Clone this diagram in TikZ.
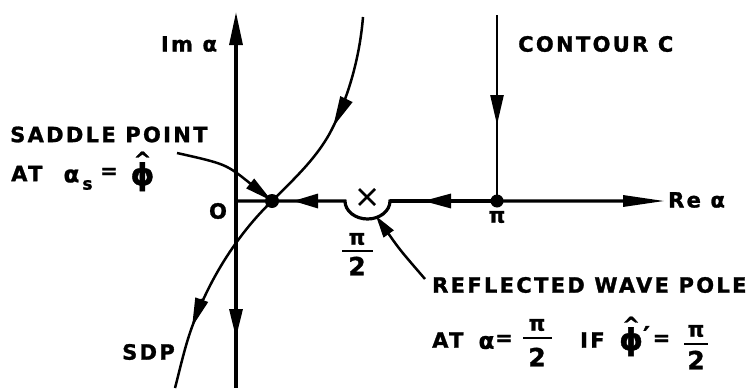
\documentclass[tikz,border=0pt]{standalone}
\usepackage{fontspec}
\setmainfont{DejaVu Sans}[BoldFeatures={FakeBold=1.3}]
\newfontfamily\labfont{DejaVu Sans}[LetterSpace=11,BoldFeatures={FakeBold=1.3}]
\usetikzlibrary{arrows.meta,decorations.markings,calc}
\newcommand\fsz[1]{\fontsize{#1}{#1}\selectfont}
\newcommand\phihat{\ooalign{\fsz{30}ϕ\cr\hidewidth\raisebox{18pt}{\fsz{21}\char"5E}\hidewidth\cr}}
\begin{document}
\begin{tikzpicture}[x=1pt,y=-1pt,
  ax/.style={line width=3.2pt},
  cv/.style={line width=2.5pt},
  lab/.style={font=\labfont\bfseries\fsz{21}, inner sep=0pt, anchor=west},
  sym/.style={font=\bfseries\fsz{21}, inner sep=0pt},
  fbar/.style={line width=2.8pt},
  fwd/.style 2 args={postaction={decorate}, decoration={markings,
      mark=at position #1 with {\arrow{Triangle[length=#2,width=13pt]}}}},
  bwd/.style 2 args={postaction={decorate}, decoration={markings,
      mark=at position #1 with {\arrowreversed{Triangle[length=#2,width=14pt]}}}},
]
\useasboundingbox (0,0) rectangle (754,388);

% key points
\coordinate (orig) at (236,201);
\coordinate (imtop) at (236,12);
\coordinate (imbot) at (236,388);
\coordinate (ind1) at (345,201);
\coordinate (ind2) at (390,201);
\coordinate (retip) at (665,201);
\coordinate (saddle) at (272,201);
\coordinate (pipt) at (497,201);
\coordinate (ctop) at (497,15);
\coordinate (pole) at (367,197);

% imaginary axis
\draw[ax,-{Triangle[length=33pt,width=13pt]}] (orig) -- (imtop);
\draw[ax,fwd={137pt}{29pt}] (orig) -- (imbot);

% real axis with indentation
\draw[ax,-{Triangle[length=42pt,width=11pt]},bwd={57pt}{25pt}] (orig) -- (ind1)
   arc[start angle=180,end angle=360,x radius=22.5pt,y radius=18pt] -- (retip);
\draw[ax,bwd={33pt}{28pt}] (ind2) -- (pipt);

% contour C vertical
\draw[cv,fwd={110pt}{30pt}] (ctop) -- (pipt);

% steepest descent path
\coordinate (s0) at (363,17);
\coordinate (s1) at (333,127);
\coordinate (s1b) at (346,100);
\coordinate (s3) at (192,327);
\coordinate (s3b) at (202,299);
\coordinate (s4) at (175,388);
\draw[cv] (s0) .. controls (360,54) and (350,93) .. (s1)
   .. controls (319,156) and (295,178) .. (saddle)
   .. controls (236,236) and (209,280) .. (s3)
   .. controls (185,346) and (180,369) .. (s4);
\draw[cv,-{Triangle[length=31pt,width=13pt]}] (s1b) -- (s1);
\draw[cv,-{Triangle[length=29pt,width=13pt]}] (s3b) -- (s3);

% dots and pole
\fill (saddle) circle[radius=7pt];
\fill (pipt) circle[radius=6.5pt];
\draw[line width=2.8pt] ($(pole)+(-8,-8)$) -- ($(pole)+(8,8)$) ($(pole)+(8,-8)$) -- ($(pole)+(-8,8)$);

% labels
\node[lab,anchor=center] (imlab) at (189,44) {Im α};
\node[lab] (contlab) at (518,44) {CONTOUR C};
\node[lab] (relab) at (668,200) {Re α};
\node[sym] (olab) at (218,211) {O};
\node[sym] (pilab) at (497,217) {π};
\node[sym] (hnum) at (357,239) {π};
\draw[fbar] (342,251) -- (373,251);
\node[sym,font=\bfseries\fsz{25}] (hden) at (357,266) {2};

\node[lab] (sp1) at (10,134.5) {SADDLE POINT};
\node[lab] (sp2) at (11,173.5) {AT};
\node[sym,font=\bfseries\fsz{23}] (spa) at (71.5,176) {α};
\node[sym,font=\bfseries\fsz{17}] (sps) at (87.5,185) {s};
\node[sym] (speq) at (109,173) {=};
\node[sym,anchor=base] (spphi) at (142.5,185) {\phihat};
\coordinate (sptail) at (177,153);
\draw[cv,-{Triangle[length=28pt,width=12pt]}] (sptail) .. controls (226,164) .. (saddle);

\node[lab] (sdp) at (122,352) {SDP};

\node[lab] (rw1) at (432,285) {REFLECTED WAVE POLE};
\node[lab] (rw2) at (432,340) {AT};
\node[sym,font=\bfseries\fsz{23}] (rwa) at (486.5,342.5) {α};
\node[sym] (rweq) at (504,340) {=};
\node[sym] (rwn1) at (537,325) {π};
\draw[fbar] (523,338) -- (552,338);
\node[sym,font=\bfseries\fsz{25}] (rwd1) at (537,357) {2};
\node[lab] (rwif) at (580,340) {IF};
\node[sym,anchor=base west] (rwphi) at (619,350) {\phihat\raisebox{5pt}{\fsz{26}′}};
\node[sym] (rweq2) at (661.5,340) {=};
\node[sym] (rwn2) at (696,331) {π};
\draw[fbar] (684,344) -- (708,344);
\node[sym,font=\bfseries\fsz{25}] (rwd2) at (696,360) {2};
\coordinate (reftail) at (425,279);
\coordinate (reftip) at (376,216);
\draw[cv,-{Triangle[length=22pt,width=12pt]}] (reftail) .. controls (400,250) .. (reftip);
\end{tikzpicture}
\end{document}
